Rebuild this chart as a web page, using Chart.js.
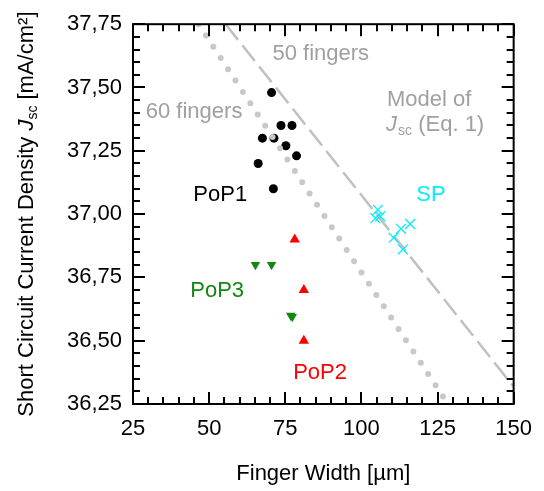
<!DOCTYPE html>
<html>
<head>
<meta charset="utf-8">
<script src="https://cdn.jsdelivr.net/npm/chart.js@4"></script>
<style>
  html, body { margin: 0; padding: 0; background: #fff; }
  #wrap { width: 544px; height: 491px; }
</style>
</head>
<body>
<div id="wrap"><canvas id="jscChart" width="544" height="491"></canvas></div>
<script>
// measured points (finger width in um, Jsc in mA/cm2)
var pop1Width = [70.5, 73.6, 77.2, 67.5, 71.3, 75.2, 78.7, 66.1, 71.1];
var pop1Jsc = [37.48, 37.35, 37.35, 37.30, 37.30, 37.27, 37.23, 37.20, 37.10];

var spWidth = [105.4, 104.6, 106.2, 113.0, 116.0, 110.6, 113.6];
var spJsc = [37.017, 36.984, 36.991, 36.942, 36.961, 36.907, 36.861];

var pop2Width = [78.1, 81.1, 81.1];
var pop2Jsc = [36.90, 36.70, 36.50];

var pop3Width = [65.2, 70.5, 76.8, 77.3];
var pop3Jsc = [36.80, 36.80, 36.60, 36.595];

// model lines (Eq. 1) for 60 and 50 fingers
var line60Width = [46.5, 128.4];
var line60Jsc = [37.75, 36.25];
var line50Width = [55.4, 150];
var line50Jsc = [37.75, 36.318];

// axis ticks
var xTicks = [25, 50, 75, 100, 125, 150];
var yTicks = [36.25, 36.50, 36.75, 37.00, 37.25, 37.50, 37.75];

// text labels placed in data units
var labels = [
    { text: '50 fingers', x: 70.8, y: 37.610, color: '#a0a0a0' },
    { text: '60 fingers', x: 29.2, y: 37.380, color: '#a0a0a0' },
    { text: 'Model of', x: 108.4, y: 37.425, color: '#a0a0a0' },
    { text: 'SP', x: 118.0, y: 37.052, color: '#00eeff' },
    { text: 'PoP1', x: 44.8, y: 37.050, color: '#000000' },
    { text: 'PoP3', x: 43.8, y: 36.673, color: '#118811' },
    { text: 'PoP2', x: 77.6, y: 36.350, color: '#ff0000' }
];

function toPoints(xs, ys) {
    var pts = [];
    for (var i = 0; i < xs.length; i++) {
        pts.push({ x: xs[i], y: ys[i] });
    }
    return pts;
}

var FONT = 'Liberation Sans, Arial, sans-serif';
Chart.defaults.font.family = FONT;

// frame, inward ticks on all sides, axis titles and text labels
var decorPlugin = {
    id: 'decor',
    afterDatasetsDraw: function(chart) {
        var ctx = chart.ctx;
        var a = chart.chartArea;
        var xs = chart.scales.x;
        var ys = chart.scales.y;
        ctx.save();
        ctx.strokeStyle = '#000';
        ctx.lineWidth = 2;
        ctx.strokeRect(a.left, a.top, a.right - a.left, a.bottom - a.top);

        ctx.beginPath();
        for (var i = 25; i <= 150; i += 5) {
            var px = Math.round(xs.getPixelForValue(i));
            var len = (i % 25 === 0) ? 12 : 7;
            ctx.moveTo(px, a.bottom); ctx.lineTo(px, a.bottom - len);
            ctx.moveTo(px, a.top); ctx.lineTo(px, a.top + len);
        }
        for (var k = 0; k <= 30; k++) {
            var py = Math.round(ys.getPixelForValue(36.25 + k * 0.05));
            var l2 = (k % 5 === 0) ? 12 : 7;
            ctx.moveTo(a.left, py); ctx.lineTo(a.left + l2, py);
            ctx.moveTo(a.right, py); ctx.lineTo(a.right - l2, py);
        }
        ctx.stroke();

        // text labels
        ctx.font = '22px ' + FONT;
        ctx.textAlign = 'left';
        ctx.textBaseline = 'alphabetic';
        labels.forEach(function(lb) {
            ctx.fillStyle = lb.color;
            ctx.fillText(lb.text, xs.getPixelForValue(lb.x), ys.getPixelForValue(lb.y));
        });

        // second line of the model label: J_sc (Eq. 1)
        var mx = xs.getPixelForValue(108.1);
        var my = ys.getPixelForValue(37.328);
        ctx.fillStyle = '#a0a0a0';
        ctx.font = 'italic 22px ' + FONT;
        ctx.fillText('J', mx, my);
        mx += ctx.measureText('J').width + 1;
        ctx.font = '14px ' + FONT;
        ctx.fillText('sc', mx, my + 4);
        mx += ctx.measureText('sc').width;
        ctx.font = '22px ' + FONT;
        ctx.fillText(' (Eq. 1)', mx, my);

        // x title
        ctx.fillStyle = '#000';
        ctx.textAlign = 'center';
        ctx.fillText('Finger Width [\u00b5m]', (a.left + a.right) / 2, 480);

        // y title, rotated
        var parts = [
            { t: 'Short Circuit Current Density ', f: '22px ' + FONT, dy: 0 },
            { t: 'J', f: 'italic 22px ' + FONT, dy: 0 },
            { t: 'sc', f: '14px ' + FONT, dy: 4 },
            { t: ' [mA/cm\u00b2]', f: '22px ' + FONT, dy: 0 }
        ];
        var total = 0;
        parts.forEach(function(p) { ctx.font = p.f; p.w = ctx.measureText(p.t).width; total += p.w; });
        ctx.translate(33, (a.top + a.bottom) / 2);
        ctx.rotate(-Math.PI / 2);
        ctx.textAlign = 'left';
        var cx = -total / 2;
        parts.forEach(function(p) {
            ctx.font = p.f;
            ctx.fillText(p.t, cx, p.dy);
            cx += p.w;
        });
        ctx.restore();
    }
};

var ctx = document.getElementById('jscChart').getContext('2d');

var jscChart = new Chart(ctx, {
    type: 'scatter',
    data: {
        datasets: [
            {
                label: 'SP',
                data: toPoints(spWidth, spJsc),
                pointStyle: 'crossRot',
                pointRadius: 7,
                borderColor: '#00eeff',
                borderWidth: 1.3
            },
            {
                label: '60 fingers',
                data: toPoints(line60Width, line60Jsc),
                showLine: true,
                pointRadius: 0,
                borderColor: '#c8c8c8',
                borderWidth: 6,
                borderDash: [0, 13.5],
                borderCapStyle: 'round'
            },
            {
                label: '50 fingers',
                data: toPoints(line50Width, line50Jsc),
                showLine: true,
                pointRadius: 0,
                borderColor: '#c0c0c0',
                borderWidth: 2.5,
                borderDash: [20, 7]
            },
            {
                label: 'PoP1',
                data: toPoints(pop1Width, pop1Jsc),
                pointStyle: 'circle',
                pointRadius: 4.5,
                backgroundColor: '#000',
                borderColor: '#000',
                borderWidth: 0
            },
            {
                label: 'PoP2',
                data: toPoints(pop2Width, pop2Jsc),
                pointStyle: 'triangle',
                pointRadius: 6,
                backgroundColor: '#ff0000',
                borderColor: '#ff0000',
                borderWidth: 0
            },
            {
                label: 'PoP3',
                data: toPoints(pop3Width, pop3Jsc),
                pointStyle: 'triangle',
                rotation: 180,
                pointRadius: 5.5,
                backgroundColor: '#118811',
                borderColor: '#118811',
                borderWidth: 0
            }
        ]
    },
    options: {
        responsive: false,
        animation: false,
        layout: { padding: { top: 18, right: 26, left: 0, bottom: 0 } },
        plugins: {
            legend: { display: false },
            tooltip: { enabled: false }
        },
        scales: {
            x: {
                type: 'linear',
                min: 25,
                max: 150,
                afterBuildTicks: function(scale) {
                    scale.ticks = xTicks.map(function(v) { return { value: v }; });
                },
                afterFit: function(scale) { scale.height = 87; },
                grid: { display: false, drawTicks: false },
                border: { display: false },
                ticks: {
                    padding: 12,
                    color: '#000',
                    font: { size: 22 },
                    maxRotation: 0
                }
            },
            y: {
                type: 'linear',
                min: 36.25,
                max: 37.75,
                afterBuildTicks: function(scale) {
                    scale.ticks = yTicks.map(function(v) { return { value: v }; });
                },
                afterFit: function(scale) { scale.width = 133; },
                grid: { display: false, drawTicks: false },
                border: { display: false },
                ticks: {
                    padding: 11,
                    color: '#000',
                    font: { size: 22 },
                    callback: function(v) { return v.toFixed(2).replace('.', ','); }
                }
            }
        }
    },
    plugins: [decorPlugin]
});
</script>
</body>
</html>
